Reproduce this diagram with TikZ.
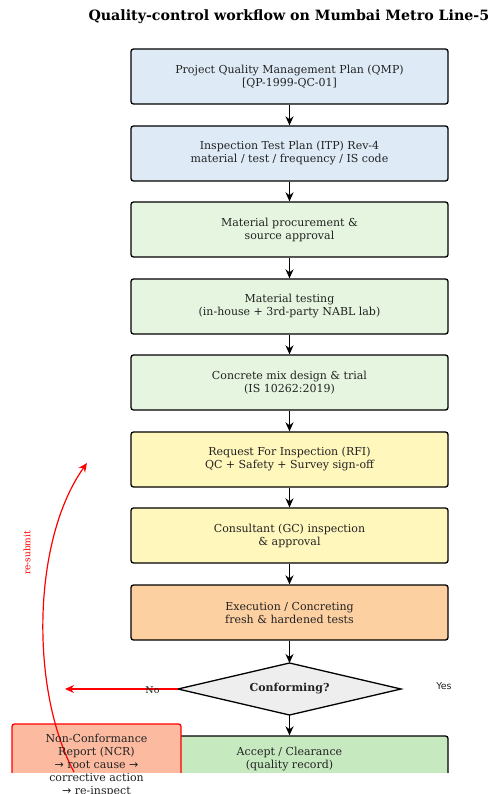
\documentclass[tikz,border=0pt]{standalone}
\usepackage{fontspec}
\setmainfont{DejaVu Serif}
\newfontfamily\dvsans{DejaVu Sans}
\usetikzlibrary{shapes.geometric,arrows.meta}
\definecolor{cblue}{HTML}{DEEBF7}
\definecolor{cgreen}{HTML}{E5F5E0}
\definecolor{cyellow}{HTML}{FFF7BC}
\definecolor{corange}{HTML}{FDD0A2}
\definecolor{cgray}{HTML}{EEEEEE}
\definecolor{caccept}{HTML}{C7E9C0}
\definecolor{cncr}{HTML}{FCBBA1}
\definecolor{cred}{HTML}{FF0000}
\definecolor{ctext}{HTML}{222222}
\tikzset{
  bodyfont/.style={font=\fontsize{11}{13}\selectfont, text=ctext},
  stepbox/.style={draw=black, line width=1.3pt, rounded corners=2.5pt, minimum width=317pt, minimum height=55pt, inner sep=0pt, align=center, bodyfont},
  flow/.style={line width=1.3pt, -{Stealth[length=9pt,width=8pt]}},
}
\begin{document}
\begin{tikzpicture}[x=1pt,y=-1pt]
\useasboundingbox (0,0) rectangle (491,794);
\node[anchor=west, font=\bfseries\fontsize{14.2}{16}\selectfont] (title) at (85,17) {Quality-control workflow on Mumbai Metro Line-5};
\node[stepbox, fill=cblue] (qmp) at (289.5,76.5) {Project Quality Management Plan (QMP)\\{}[QP-1999-QC-01]};
\node[stepbox, fill=cblue] (itp) at (289.5,153.5) {Inspection Test Plan (ITP) Rev-4\\material / test / frequency / IS code};
\node[stepbox, fill=cgreen] (proc) at (289.5,229.5) {Material procurement \&\\source approval};
\node[stepbox, fill=cgreen] (test) at (289.5,306.5) {Material testing\\(in-house + 3rd-party NABL lab)};
\node[stepbox, fill=cgreen] (mix) at (289.5,382.5) {Concrete mix design \& trial\\(IS 10262:2019)};
\node[stepbox, fill=cyellow] (rfi) at (289.5,459.5) {Request For Inspection (RFI)\\QC + Safety + Survey sign-off};
\node[stepbox, fill=cyellow] (gc) at (289.5,535.5) {Consultant (GC) inspection\\\& approval};
\node[stepbox, fill=corange] (exec) at (289.5,612.5) {Execution / Concreting\\fresh \& hardened tests};
\coordinate (dw) at (178,689);
\coordinate (dn) at (289.5,663);
\coordinate (de) at (401,689);
\coordinate (ds) at (289.5,715);
\draw[line width=1.3pt, fill=cgray, line join=miter] (dw) -- (dn) -- (de) -- (ds) -- cycle;
\node[font=\bfseries\fontsize{11}{13}\selectfont, text=ctext] (conf) at (289.5,689) {Conforming?};
\begin{scope}
\clip (0,0) rectangle (491,772);
\node[stepbox, fill=caccept] (acc) at (289.5,763.5) {};
\node[draw=cred, line width=1.3pt, fill=cncr, rounded corners=2.5pt, minimum width=169pt, minimum height=84pt, inner sep=0pt] (ncr) at (96.5,766) {};
\coordinate (rsstart) at (74,772);
\coordinate (rsend) at (87,463);
\draw[cred, line width=1.2pt, -{Stealth[length=9pt,width=8pt]}] (rsstart) .. controls (30,690) and (32,540) .. (rsend);
\end{scope}
\node[align=center, bodyfont] (acct) at (289.5,759.5) {Accept / Clearance\\(quality record)};
\node[align=center, bodyfont] (ncrt) at (96.5,765.5) {Non-Conformance\\Report (NCR)\\{\dvsans →} root cause {\dvsans →}\\corrective action\\{\dvsans →} re-inspect};
\draw[cred, line width=1.2pt, -{Stealth[length=9pt,width=8pt]}] (dw) -- (65,689) coordinate (noend);
\node[font=\fontsize{9.5}{11}\selectfont, text=ctext] (no) at (152.5,690) {No};
\node[font=\dvsans\fontsize{9.5}{11}\selectfont, text=ctext] (yes) at (444,686) {Yes};
\node[rotate=90, text=cred, font=\fontsize{9}{10}\selectfont] (resub) at (27,553) {re-submit};
\draw[flow] (qmp) -- (itp);
\draw[flow] (itp) -- (proc);
\draw[flow] (proc) -- (test);
\draw[flow] (test) -- (mix);
\draw[flow] (mix) -- (rfi);
\draw[flow] (rfi) -- (gc);
\draw[flow] (gc) -- (exec);
\draw[flow] (exec) -- (dn);
\draw[flow] (ds) -- (acc);
\end{tikzpicture}
\end{document}
